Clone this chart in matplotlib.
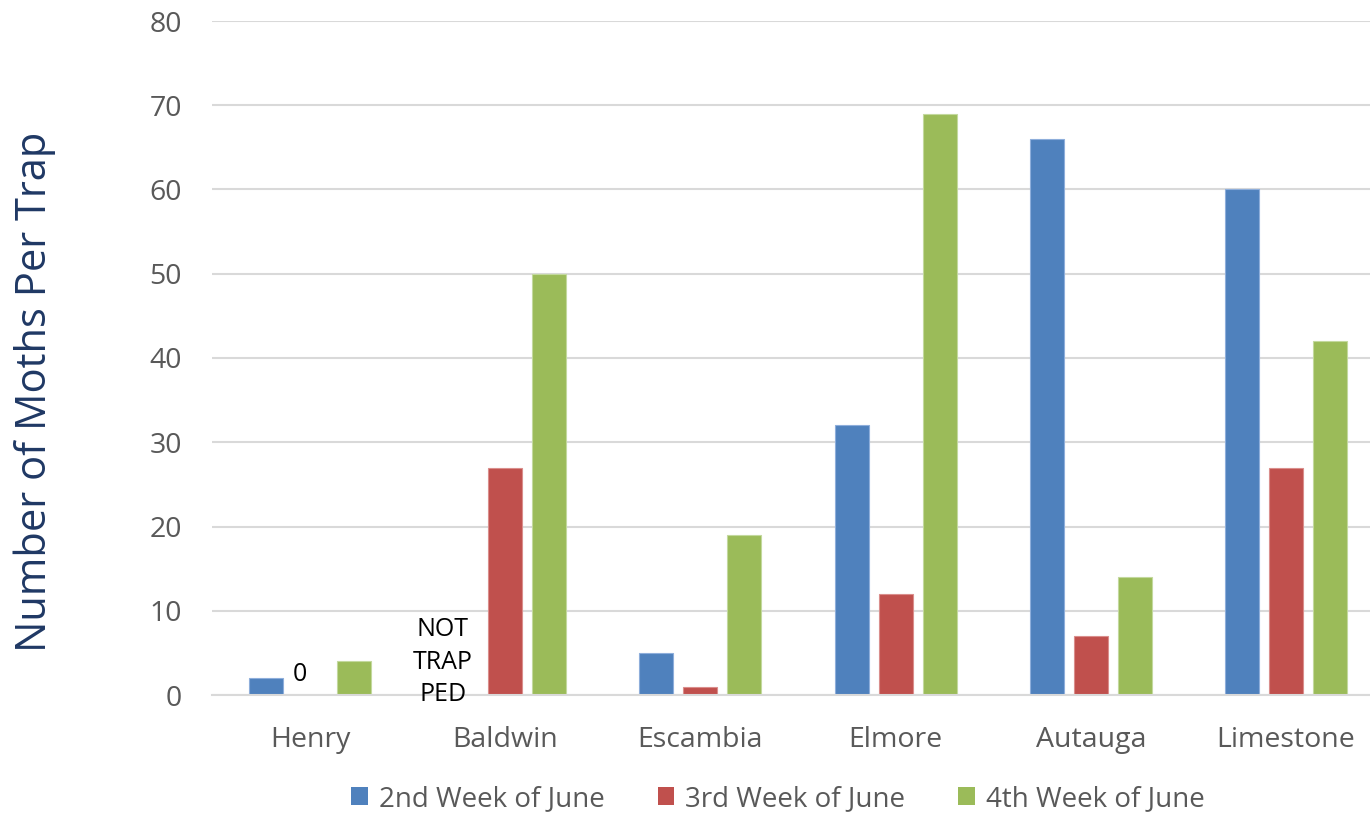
import numpy as np
import matplotlib.pyplot as plt
from matplotlib.patches import Patch

# trap counts per county, one list per sampling week (None = not trapped)
COUNTIES = ["Henry", "Baldwin", "Escambia", "Elmore", "Autauga", "Limestone"]
WEEK2 = [2, None, 5, 32, 66, 60]
WEEK3 = [0, 27, 1, 12, 7, 27]
WEEK4 = [4, 50, 19, 69, 14, 42]
SERIES_NAMES = ["2nd Week of June", "3rd Week of June", "4th Week of June"]
Y_TICKS = [0, 10, 20, 30, 40, 50, 60, 70, 80]

COLORS = ["#4F81BD", "#C0504D", "#9BBB59"]
EDGES = ["#8EAEDB", "#DA8E8C", "#C3D99E"]
GRID = "#D9D9D9"
TICK_TXT = "#595959"

plt.rcParams["font.family"] = ["Open Sans", "DejaVu Sans"]

fig = plt.figure(figsize=(13.7, 8.15), dpi=100)
ax = fig.add_axes([212.4 / 1370, 120 / 815, 1171.2 / 1370, 674 / 815])

x = np.arange(len(COUNTIES))
width = 0.174
step = 0.225
for i, vals in enumerate([WEEK2, WEEK3, WEEK4]):
    h = [np.nan if v is None else v for v in vals]
    ax.bar(x + (i - 1) * step, h, width, color=COLORS[i],
           edgecolor=EDGES[i], linewidth=0.8, zorder=3)

ax.set_xlim(-0.5, len(COUNTIES) - 0.5)
ax.set_ylim(0, 80)
ax.set_yticks(Y_TICKS)
ax.set_xticks(x)
ax.set_xticklabels(COUNTIES)
ax.tick_params(axis="both", length=0, labelsize=20.5, labelcolor=TICK_TXT)
ax.tick_params(axis="x", pad=22)
ax.tick_params(axis="y", pad=22)
ax.grid(axis="y", color=GRID, linewidth=1.5, zorder=0)
for side in ["top", "right", "left"]:
    ax.spines[side].set_visible(False)
ax.spines["bottom"].set_color(GRID)
ax.spines["bottom"].set_linewidth(1.5)
ax.spines["bottom"].set_zorder(4)

# zero-count and missing-trap notes
ax.text(x[0] - 0.05, 2.4, "0", ha="center", va="center", fontsize=18,
        color="black", zorder=6, clip_on=False)
ax.text(x[1] - 0.32, 3.9, "NOT\nTRAP\nPED", ha="center", va="center",
        fontsize=18, color="black", linespacing=1.4, zorder=6,
        clip_on=False)

fig.text(35 / 1370, 1 - 392 / 815, "Number of Moths Per Trap",
         rotation=90, ha="center", va="center", fontsize=30, color="#1F3864")

handles = [Patch(facecolor=c) for c in COLORS]
fig.legend(handles, SERIES_NAMES, loc="center", ncol=3,
           bbox_to_anchor=(778 / 1370, 1 - 799 / 815), frameon=False,
           fontsize=20, labelcolor=TICK_TXT, handlelength=0.6,
           handleheight=0.6, handletextpad=0.4, columnspacing=1.9)

fig.savefig("out.png", dpi=100)
